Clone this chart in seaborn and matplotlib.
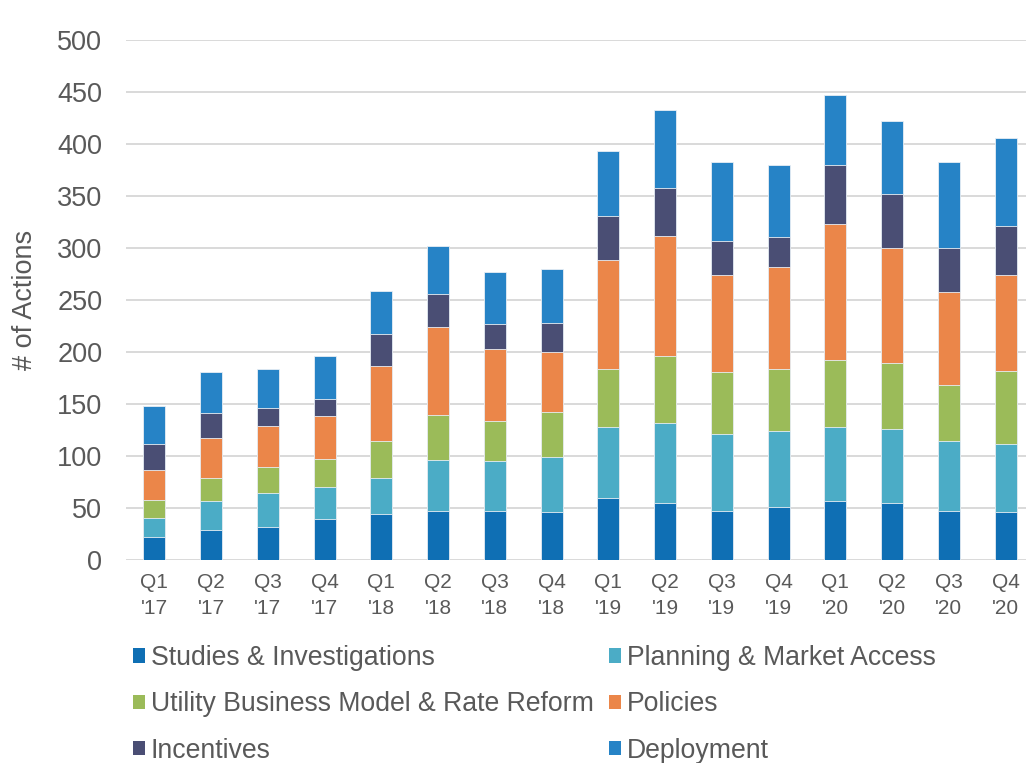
import numpy as np
import pandas as pd
import matplotlib
matplotlib.use("Agg")
import matplotlib.pyplot as plt
from matplotlib.patches import Patch
import seaborn as sns

quarters = ["Q1\n'17", "Q2\n'17", "Q3\n'17", "Q4\n'17",
            "Q1\n'18", "Q2\n'18", "Q3\n'18", "Q4\n'18",
            "Q1\n'19", "Q2\n'19", "Q3\n'19", "Q4\n'19",
            "Q1\n'20", "Q2\n'20", "Q3\n'20", "Q4\n'20"]

studies    = [22, 29, 32, 39, 44, 47, 47, 46, 60, 55, 47, 51, 57, 55, 47, 46]
planning   = [18, 28, 32, 31, 35, 49, 48, 53, 68, 77, 74, 73, 71, 71, 67, 66]
utility    = [18, 22, 25, 27, 35, 43, 39, 43, 56, 64, 60, 60, 64, 63, 54, 70]
policies   = [29, 38, 40, 41, 73, 85, 69, 58, 104, 116, 93, 98, 131, 111, 90, 92]
incentives = [25, 24, 17, 17, 30, 32, 24, 28, 43, 46, 33, 29, 57, 52, 42, 47]
deployment = [36, 40, 38, 41, 42, 46, 50, 52, 62, 75, 76, 69, 67, 70, 83, 85]

series_names = ["Studies & Investigations", "Planning & Market Access",
                "Utility Business Model & Rate Reform", "Policies",
                "Incentives", "Deployment"]
series_vals = [studies, planning, utility, policies, incentives, deployment]
colors = ["#0F6FB4", "#4BACC6", "#9BBB59", "#EB8649", "#4A4E74", "#2683C6"]

sns.set_theme(style="white")
plt.rcParams["font.family"] = ["Liberation Sans", "DejaVu Sans"]
text_color = "#595959"

fig = plt.figure(figsize=(10.26, 7.63), dpi=100)
ax = fig.add_axes([126 / 1026, 1 - 560 / 763, 908 / 1026, 520 / 763])

cum = np.cumsum(np.array(series_vals), axis=0)
df = pd.DataFrame({"quarter": quarters})
for i in reversed(range(len(series_names))):
    df["val"] = cum[i]
    sns.barplot(data=df, x="quarter", y="val", color=colors[i], saturation=1,
                width=0.39, edgecolor="#E8EEF4", linewidth=0.6, ax=ax, zorder=3)

ax.set_ylim(0, 500)
ax.set_yticks(range(0, 501, 50))
ax.set_xlim(-0.5, len(quarters) - 0.5)
ax.yaxis.grid(True, color="#D9D9D9", linewidth=1.4, zorder=0)
ax.set_axisbelow(True)
for s in ax.spines.values():
    s.set_visible(False)
ax.set_xlabel("")
ax.set_ylabel("# of Actions", fontsize=19.5, color=text_color, labelpad=14)
ax.tick_params(axis="y", length=0, pad=17, labelsize=19.5, labelcolor=text_color)
ax.tick_params(axis="x", length=0, pad=9, labelsize=15, labelcolor=text_color)
for lab in ax.get_xticklabels():
    lab.set_linespacing(1.5)

order = [0, 2, 4, 1, 3, 5]
handles = [Patch(facecolor=colors[i], edgecolor="none") for i in order]
labels = [series_names[i] for i in order]
leg = fig.legend(handles, labels, loc="upper left", ncol=2,
                 bbox_to_anchor=(133 / 1026, 1 - 645 / 763),
                 frameon=False, fontsize=19.2, handlelength=0.45, handleheight=0.45,
                 handletextpad=0.22, columnspacing=0.56, labelspacing=0.76,
                 borderaxespad=0, borderpad=0)
for t in leg.get_texts():
    t.set_color(text_color)

fig.savefig("out.png", dpi=100)
